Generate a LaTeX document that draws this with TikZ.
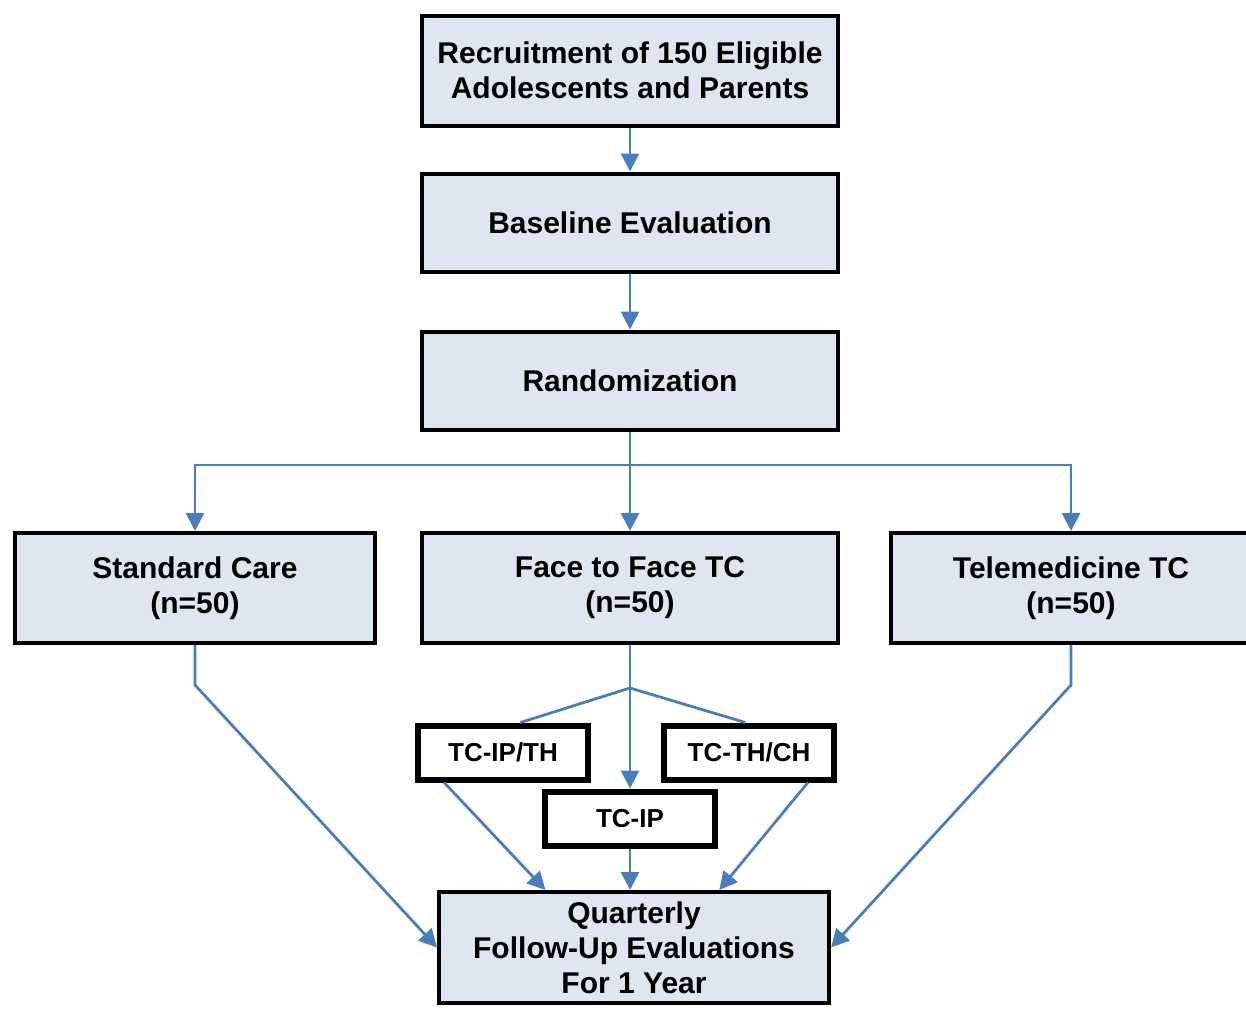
\documentclass[tikz,border=0pt]{standalone}
\usepackage{fontspec}
\setmainfont{Liberation Sans}
\usetikzlibrary{arrows.meta}
\definecolor{flowblue}{RGB}{74,126,187}
\definecolor{boxfill}{RGB}{223,230,241}
\tikzset{
  stage/.style={draw=black, line width=2pt, fill=boxfill, align=center,
    font=\fontsize{15}{17.5}\selectfont\bfseries, inner sep=0pt},
  arm/.style={draw=black, line width=3pt, fill=white, inner sep=0pt,
    font=\fontsize{13}{15}\selectfont\bfseries, minimum width=85pt, minimum height=27pt},
  flow/.style={flowblue, line width=1.4pt},
  flowarr/.style={flow, -{Triangle[length=9pt,width=9pt]}},
}
\begin{document}
\begin{tikzpicture}[x=0.5pt, y=-0.5pt]
  \useasboundingbox (0,0) rectangle (1246,1008);
  \clip (0,0) rectangle (1246,1008);
  % main stages
  \node[stage, minimum width=208pt, minimum height=55pt] (recruit) at (630,70.5) {Recruitment of 150 Eligible\\Adolescents and Parents};
  \node[stage, minimum width=208pt, minimum height=49pt] (baseline) at (630,222.5) {Baseline Evaluation};
  \node[stage, minimum width=208pt, minimum height=49pt] (random) at (630,380.5) {Randomization};
  % study groups
  \node[stage, minimum width=180pt, minimum height=55pt] (stdcare) at (195,588) {Standard Care\\(n=50)};
  \node[stage, minimum width=208pt, minimum height=55pt] (f2f) at (630,588) {Face to Face TC\\(n=50)};
  \node[stage, minimum width=180pt, minimum height=55pt] (telemed) at (1071,588) {Telemedicine TC\\(n=50)};
  % face to face arms
  \node[arm] (tcipth) at (503,752.5) {TC-IP/TH};
  \node[arm] (tcthch) at (749,752.5) {TC-TH/CH};
  \node[arm] (tcip) at (630,818.5) {TC-IP};
  \node[stage, minimum width=195pt, minimum height=55.5pt] (followup) at (634,947.5) {Quarterly\\Follow-Up Evaluations\\For 1 Year};
  % connectors
  \coordinate (split) at (630,465);
  \coordinate (fork) at (630,688);
  \coordinate (scbend) at (195,685);
  \coordinate (tmbend) at (1071,685);
  \draw[flowarr] (recruit) -- (baseline);
  \draw[flowarr] (baseline) -- (random);
  \draw[flowarr] (random) -- (f2f);
  \draw[flowarr] (split) -| (stdcare);
  \draw[flowarr] (split) -| (telemed);
  \draw[flowarr] (stdcare.south) -- (scbend) -- (followup.west);
  \draw[flowarr] (telemed.south) -- (tmbend) -- (followup.east);
  \draw[flow] (f2f.south) -- (fork);
  \draw[flow] (fork) -- (tcipth.60);
  \draw[flow] (fork) -- (tcthch.97);
  \draw[flowarr] (fork) -- (tcip);
  \draw[flowarr] (tcipth.207) -- (followup.147);
  \draw[flowarr] (tcthch.333) -- (followup.34);
  \draw[flowarr] (tcip.south) -- (tcip.south |- followup.north);
\end{tikzpicture}
\end{document}
